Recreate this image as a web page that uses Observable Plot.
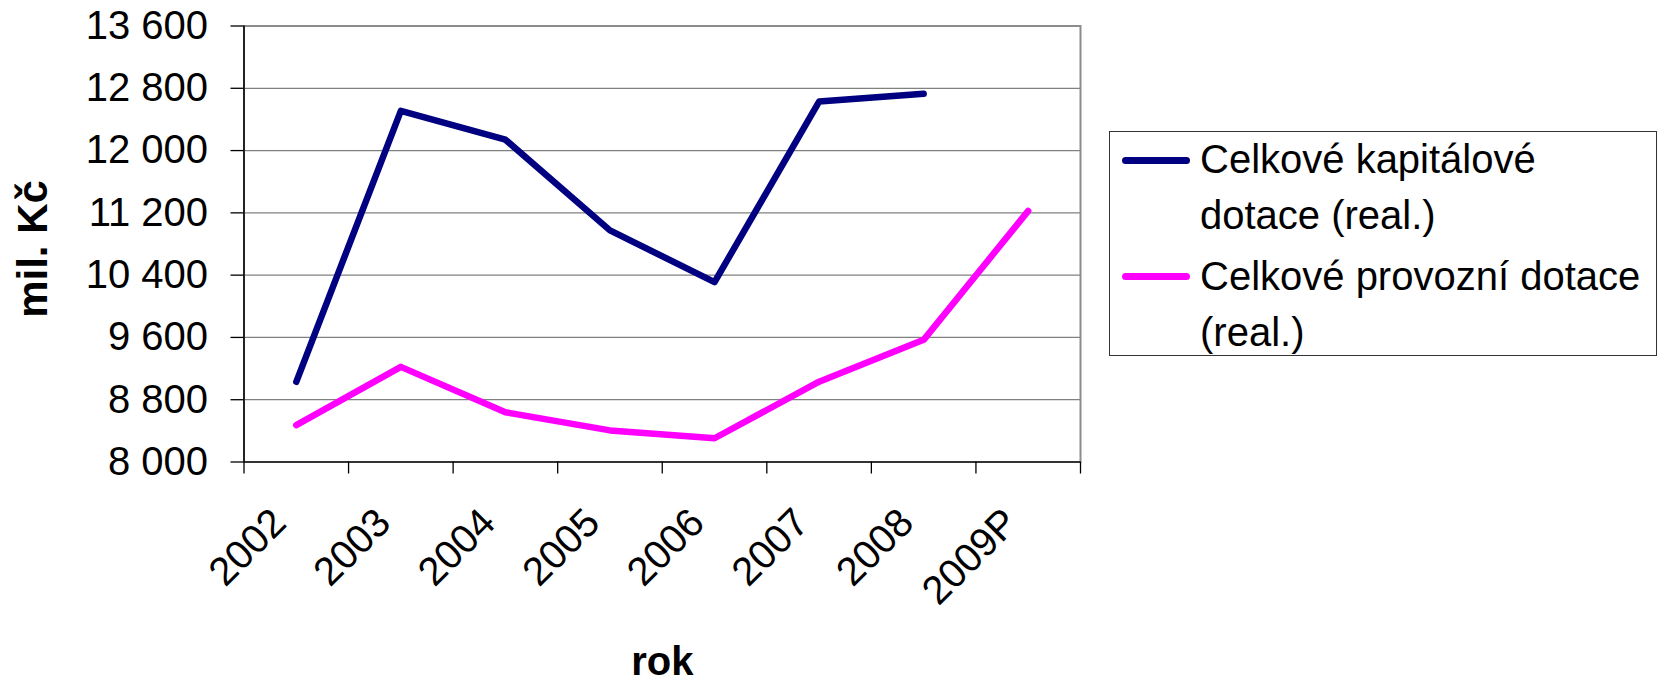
<!DOCTYPE html>
<html><head><meta charset="utf-8">
<script src="https://cdn.jsdelivr.net/npm/d3@7"></script>
<script src="https://cdn.jsdelivr.net/npm/@observablehq/plot@0.6"></script>
<style>
body{margin:0;background:#fff;font-family:"Liberation Sans",Arial,sans-serif;}
#wrap{position:relative;width:1662px;height:682px;overflow:hidden;}
#legend{position:absolute;left:1109px;top:131px;width:548px;height:225px;border:1.5px solid #333;box-sizing:border-box;}
.sw{position:absolute;width:68px;height:7px;border-radius:4px;}
.lbl{position:absolute;font-size:40px;line-height:56px;color:#000;width:452px;}
</style></head>
<body><div id="wrap"></div>
<script>
const years = ["2002", "2003", "2004", "2005", "2006", "2007", "2008", "2009P"];
const kapitalove = [9030, 12510, 12140, 10975, 10310, 12630, 12730, null];
const provozni = [8474, 9222, 8639, 8406, 8305, 9031, 9569, 11225];
const yTicks = [8000, 8800, 9600, 10400, 11200, 12000, 12800, 13600];
const seriesNames = ["Celkové kapitálové dotace (real.)", "Celkové provozní dotace (real.)"];
const seriesColors = ["#000080", "#FF00FF"];
const yTitle = "mil. Kč";
const xTitle = "rok";

const rows = [];
kapitalove.forEach((v, i) => { if (v != null) rows.push({i, v, s: seriesNames[0]}); });
provozni.forEach((v, i) => { if (v != null) rows.push({i, v, s: seriesNames[1]}); });

const fmt = d => d3.format(",")(d).replace(/,/g, " ");
const bounds = d3.range(years.length + 1).map(k => k - 0.5);

const chart = Plot.plot({
  width: 1662, height: 682,
  marginLeft: 243.5, marginRight: 582, marginTop: 25.5, marginBottom: 220.5,
  style: {fontFamily: '"Liberation Sans", Arial, sans-serif', fontSize: "40px", color: "#000", background: "#fff", overflow: "visible"},
  x: {type: "linear", domain: [-0.5, years.length - 0.5]},
  y: {domain: [yTicks[0], yTicks[yTicks.length - 1]]},
  color: {domain: seriesNames, range: seriesColors},
  marks: [
    Plot.gridY(yTicks, {stroke: "#808080", strokeOpacity: 1, strokeWidth: 1.3}),
    Plot.frame({stroke: "#8c8c8c", strokeWidth: 2}),
    Plot.ruleY([yTicks[0]], {stroke: "#333", strokeWidth: 2}),
    Plot.ruleX([-0.5], {stroke: "#000", strokeWidth: 1.5}),
    Plot.axisY(yTicks, {tickSize: 13, tickPadding: 23, tickFormat: fmt, stroke: "#000", strokeWidth: 1.3, label: null}),
    Plot.axisX(bounds, {tickSize: 12, tickFormat: () => "", stroke: "#000", strokeWidth: 1.3, label: null}),
    Plot.line(rows, {x: "i", y: "v", stroke: "s", z: "s", strokeWidth: 6.5}),
    Plot.text(years, {x: (d, i) => i, frameAnchor: "bottom", rotate: -45, textAnchor: "end", lineAnchor: "bottom", dx: -8, dy: 63}),
    Plot.text([yTitle], {frameAnchor: "left", rotate: -90, textAnchor: "middle", lineAnchor: "middle", dx: -210, dy: 5, fontWeight: "bold", fontSize: 42}),
    Plot.text([xTitle], {frameAnchor: "bottom", textAnchor: "middle", lineAnchor: "bottom", dy: 212.5, fontWeight: "bold"})
  ]
});
const wrap = document.getElementById("wrap");
wrap.appendChild(chart);

const lg = document.createElement("div");
lg.id = "legend";
wrap.appendChild(lg);
const swY = [160, 276];
const txtTop = [131, 248];
seriesNames.forEach((name, k) => {
  const sw = document.createElement("div");
  sw.className = "sw";
  sw.style.background = seriesColors[k];
  sw.style.left = "1122px";
  sw.style.top = (swY[k] - 3.5) + "px";
  wrap.appendChild(sw);
  const t = document.createElement("div");
  t.className = "lbl";
  t.textContent = name;
  t.style.left = "1200px";
  t.style.top = txtTop[k] + "px";
  wrap.appendChild(t);
});
</script>
</body></html>
